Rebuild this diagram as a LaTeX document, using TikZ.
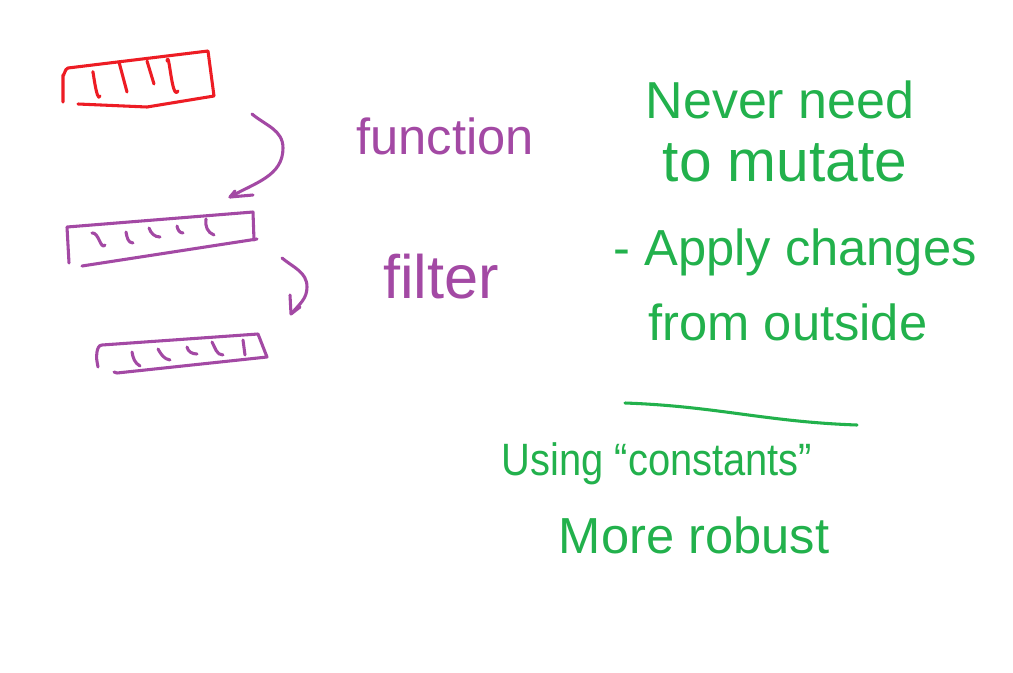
\documentclass[tikz,border=0pt]{standalone}
\usepackage{fontspec}
\setmainfont{Liberation Sans}
\definecolor{pred}{RGB}{237,28,36}
\definecolor{ppurple}{RGB}{163,73,164}
\definecolor{pgreen}{RGB}{34,177,76}
\begin{document}
\begin{tikzpicture}[x=0.75pt,y=-0.75pt,
  pen/.style={line width=2.3pt,line cap=round,line join=round},
  redpen/.style={pen,draw=pred},
  purplepen/.style={pen,draw=ppurple},
  hand/.style={inner sep=0pt,anchor=center},
  gtext/.style={hand,text=pgreen},
  ptext/.style={hand,text=ppurple}]
\useasboundingbox[fill=white] (0,0) rectangle (1013,672);

% red array
\draw[redpen] (63,102) -- (63,75) to[out=-80,in=185] (68,68) -- (208,51) -- (214,96) -- (147,107) -- (78,104);
\draw[redpen] (93,73) to[out=95,in=-110] (100,96);
\draw[redpen] (119,62) -- (127,92);
\draw[redpen] (147,61) -- (154,84);
\draw[redpen] (167,61) to[out=80,in=-120] (178,91);

% purple array 1
\draw[purplepen] (69,263) -- (67,227) -- (253,212) -- (254,240);
\draw[purplepen] (257,239) -- (82,266);
\draw[purplepen] (92,233) to[out=10,in=-130] (105,245);
\draw[purplepen] (126,232) to[out=-80,in=180] (133,243);
\draw[purplepen] (149,228) to[out=-70,in=180] (160,237);
\draw[purplepen] (177,226) to[out=-80,in=180] (183,233);
\draw[purplepen] (206,219) to[out=-100,in=160] (214,235);

% purple array 2
\draw[purplepen] (98,367) to[out=100,in=-100] (97,352) to[out=80,in=180] (102,345) -- (258,334) -- (267,357) -- (117,373) -- (114,372);
\draw[purplepen] (132,352) to[out=-80,in=150] (140,366);
\draw[purplepen] (158,349) to[out=-60,in=170] (170,360);
\draw[purplepen] (187,347) to[out=-80,in=180] (197,354);
\draw[purplepen] (212,342) to[out=-60,in=180] (223,355);
\draw[purplepen] (243,340) -- (245,355);

% arrows
\coordinate (a1s) at (252,114);
\coordinate (a1e) at (230,197);
\draw[purplepen] (a1s) to[out=-40,in=90] (283,148) to[out=-90,in=30] (a1e);
\draw[purplepen] (235,191) -- (a1e) -- (253,195);
\coordinate (a2s) at (282,258);
\coordinate (a2e) at (292,313);
\draw[purplepen] (a2s) to[out=-40,in=90] (307,287) to[out=-90,in=50] (a2e);
\draw[purplepen] (290,295) -- (291,314) -- (300,307);

% texts
\node[ptext,font=\fontsize{38}{40}\selectfont] (tfun) at (445,136) {function};
\node[ptext,font=\fontsize{46}{48}\selectfont] (tfil) at (441,277) {filter};
\node[gtext,font=\fontsize{39}{41}\selectfont] (t1) at (780,100) {Never need};
\node[gtext,font=\fontsize{44}{46}\selectfont] (t2) at (785,163) {to mutate};
\node[gtext,font=\fontsize{38}{40}\selectfont] (t3) at (795,252) {- Apply changes};
\node[gtext,font=\fontsize{38}{40}\selectfont] (t4) at (788,322) {from outside};
\coordinate (l1) at (625,403);
\coordinate (l2) at (857,425);
\draw[pen,draw=pgreen] (l1) to[out=-2,in=178] (l2);
\node[gtext,font=\fontsize{34}{36}\selectfont,xscale=0.88] (t5) at (657,464) {Using “constants”};
\node[gtext,font=\fontsize{38}{40}\selectfont] (t6) at (694,535) {More robust};
\end{tikzpicture}
\end{document}
